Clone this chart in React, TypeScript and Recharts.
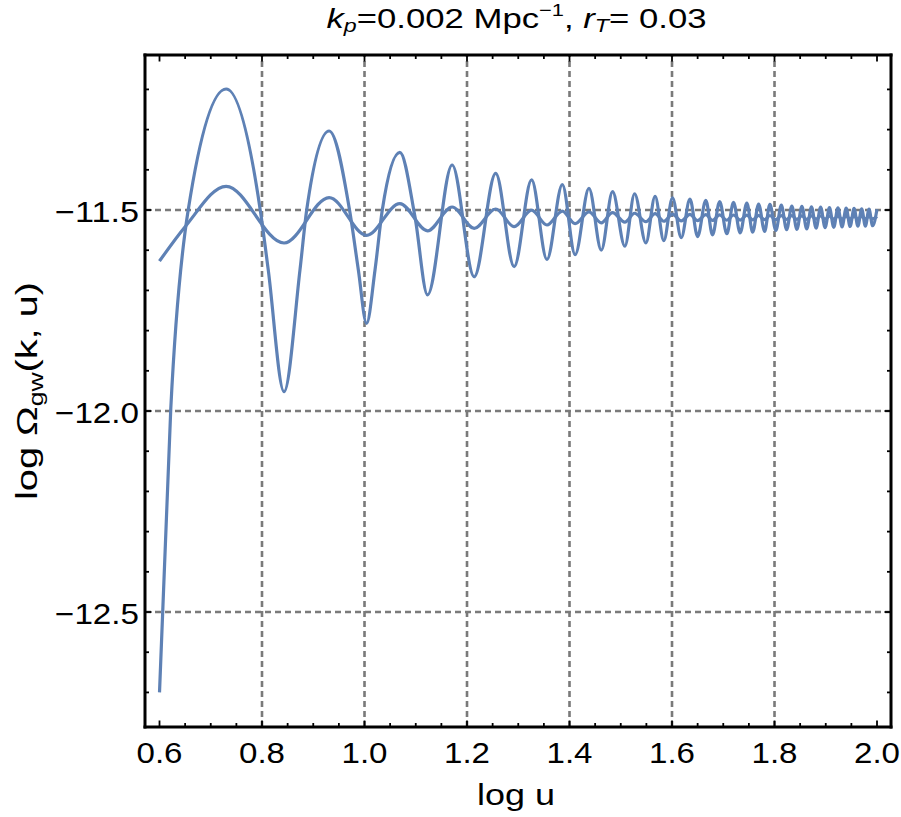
import React from 'react';
import { LineChart, Line, XAxis, YAxis, ReferenceLine } from 'recharts';

// log u positions of the extrema (peak, trough, peak, ...), shared by both curves
const extremaLogU = [
  0.73, 0.843, 0.931, 1.004, 1.069, 1.123, 1.171, 1.214, 1.256, 1.292,
  1.326, 1.356, 1.386, 1.411, 1.438, 1.462, 1.484, 1.508, 1.527, 1.549,
  1.567, 1.584, 1.601, 1.618, 1.635, 1.65, 1.666, 1.679, 1.693, 1.707,
  1.72, 1.733, 1.746, 1.7575, 1.769, 1.7807, 1.791, 1.8027, 1.8133, 1.8237,
  1.8338, 1.8437, 1.8534, 1.8629, 1.8721, 1.8811, 1.89, 1.8987, 1.9072, 1.9156,
  1.9238, 1.9318, 1.9398, 1.9475, 1.9552, 1.9627, 1.9701, 1.9773, 1.9844, 1.9914,
  2.0,
];

// large-amplitude curve
const leadLogUA = [0.6, 0.622, 0.656];
const leadOmegaA = [-12.7, -11.994, -11.5];
const extremaOmegaA = [
  -11.199, -11.952, -11.3035, -11.782, -11.3565, -11.711, -11.388, -11.666, -11.409, -11.641,
  -11.425, -11.623, -11.437, -11.611, -11.446, -11.6, -11.4545, -11.59, -11.4595, -11.582,
  -11.466, -11.576, -11.47, -11.569, -11.473, -11.566, -11.476, -11.562, -11.479, -11.559,
  -11.481, -11.557, -11.483, -11.555, -11.485, -11.553, -11.486, -11.551, -11.488, -11.549,
  -11.49, -11.548, -11.491, -11.547, -11.492, -11.545, -11.493, -11.544, -11.494, -11.543,
  -11.4945, -11.542, -11.495, -11.541, -11.496, -11.54, -11.497, -11.54, -11.498, -11.539,
  -11.498,
];
// extra points read on the flanks of the first, narrow troughs
const flankLogUA = [0.7975, 0.8122, 0.8741, 0.8872, 0.9717, 0.988, 1.0205, 1.0347, 1.0985];
const flankOmegaA = [-11.508, -11.649, -11.649, -11.5, -11.507, -11.649, -11.649, -11.5, -11.517];

// small-amplitude curve
const leadLogUB = [0.6, 0.65];
const leadOmegaB = [-11.627, -11.5415];
const extremaOmegaB = [
  -11.441, -11.5821, -11.469, -11.5629, -11.484, -11.5517, -11.4925, -11.5455, -11.4975, -11.5415,
  -11.5005, -11.5373, -11.5027, -11.5341, -11.5047, -11.5318, -11.5065, -11.5303, -11.508, -11.5291,
  -11.5092, -11.5279, -11.51, -11.5271, -11.5107, -11.5264, -11.5115, -11.5259, -11.5119, -11.5254,
  -11.5124, -11.5249, -11.5129, -11.5244, -11.5134, -11.5241, -11.5137, -11.5239, -11.5139, -11.5236,
  -11.5142, -11.5234, -11.5144, -11.5231, -11.5147, -11.5229, -11.5149, -11.5226, -11.5152, -11.5224,
  -11.5154, -11.5224, -11.5154, -11.5221, -11.5157, -11.5221, -11.5157, -11.5219, -11.5159, -11.5219,
  -11.5159,
];

const xTicks = [
  0.6, 0.65, 0.7, 0.75, 0.8, 0.85, 0.9, 0.95, 1.0, 1.05, 1.1, 1.15, 1.2, 1.25, 1.3,
  1.35, 1.4, 1.45, 1.5, 1.55, 1.6, 1.65, 1.7, 1.75, 1.8, 1.85, 1.9, 1.95, 2.0,
];
const yTicks = [
  -12.7, -12.6, -12.5, -12.4, -12.3, -12.2, -12.1, -12.0,
  -11.9, -11.8, -11.7, -11.6, -11.5, -11.4, -11.3, -11.2,
];
const xGrid = [0.8, 1.0, 1.2, 1.4, 1.6, 1.8];
const yGrid = [-12.5, -12.0, -11.5];

const xDomain = [0.5717, 2.0273];
const yDomain = [-12.786, -11.1144];

const FONT = '"Liberation Sans", Arial, sans-serif';
const BLUE = '#5E81B5';

const toRows = (xs: number[], ys: number[]) =>
  xs.map((x, i) => ({ x, y: ys[i] })).sort((a, b) => a.x - b.x);
const dataA = toRows([...leadLogUA, ...flankLogUA, ...extremaLogU], [...leadOmegaA, ...flankOmegaA, ...extremaOmegaA]);
const dataB = toRows([...leadLogUB, ...extremaLogU], [...leadOmegaB, ...extremaOmegaB]);

const isMajor = (v: number, step: number) => Math.abs(v / step - Math.round(v / step)) < 1e-6;
const fmt = (v: number) => v.toFixed(1).replace('-', '\u2212');

const BottomTick = ({ x, y, payload }: any) => {
  const major = isMajor(payload.value, 0.2);
  return (
    <g>
      <line x1={x} x2={x} y1={y} y2={y - (major ? 6.5 : 4)} stroke="#000" strokeWidth={1.8} />
      {major && (
        <text x={x} y={y + 35.5} textAnchor="middle" fontSize={29} fontFamily={FONT} fill="#000"
          textLength={46} lengthAdjust="spacingAndGlyphs">
          {fmt(payload.value)}
        </text>
      )}
    </g>
  );
};

const TopTick = ({ x, y, payload }: any) => {
  const major = isMajor(payload.value, 0.2);
  return <line x1={x} x2={x} y1={y} y2={y + (major ? 6.5 : 4)} stroke="#000" strokeWidth={1.8} />;
};

const LeftTick = ({ x, y, payload }: any) => {
  const major = isMajor(payload.value, 0.5);
  return (
    <g>
      <line x1={x} x2={x + (major ? 6.5 : 4)} y1={y} y2={y} stroke="#000" strokeWidth={1.8} />
      {major && (
        <text x={x - 6} y={y + 11.5} textAnchor="end" fontSize={29} fontFamily={FONT} fill="#000"
          textLength={84} lengthAdjust="spacingAndGlyphs">
          {fmt(payload.value)}
        </text>
      )}
    </g>
  );
};

const RightTick = ({ x, y, payload }: any) => {
  const major = isMajor(payload.value, 0.5);
  return <line x1={x} x2={x - (major ? 6.5 : 4)} y1={y} y2={y} stroke="#000" strokeWidth={1.8} />;
};

const frame = { stroke: '#000', strokeWidth: 3, strokeLinecap: 'square' as const };

export default function App() {
  return (
    <div style={{ position: 'absolute', left: 0, top: 0, width: 901, height: 817, background: '#fff' }}>
      <LineChart width={901} height={817} margin={{ top: 0, right: 0, bottom: 0, left: 0 }}>
        <XAxis xAxisId="b" type="number" dataKey="x" domain={xDomain} allowDataOverflow ticks={xTicks}
          interval={0} orientation="bottom" height={90} axisLine={frame} tickLine={false}
          tickSize={0} tickMargin={0} tick={<BottomTick />} />
        <XAxis xAxisId="t" type="number" dataKey="x" domain={xDomain} allowDataOverflow ticks={xTicks}
          interval={0} orientation="top" height={55} axisLine={frame} tickLine={false}
          tickSize={0} tickMargin={0} tick={<TopTick />} />
        <YAxis yAxisId="l" type="number" domain={yDomain} allowDataOverflow ticks={yTicks}
          interval={0} orientation="left" width={145} axisLine={frame} tickLine={false}
          tickSize={0} tickMargin={0} tick={<LeftTick />} />
        <YAxis yAxisId="r" type="number" domain={yDomain} allowDataOverflow ticks={yTicks}
          interval={0} orientation="right" width={10} axisLine={frame} tickLine={false}
          tickSize={0} tickMargin={0} tick={<RightTick />} />
        {xGrid.map((v) => (
          <ReferenceLine key={'gx' + v} xAxisId="b" yAxisId="l" x={v} stroke="#7a7a7a"
            strokeWidth={2.6} strokeDasharray="6 4" />
        ))}
        {yGrid.map((v) => (
          <ReferenceLine key={'gy' + v} xAxisId="b" yAxisId="l" y={v} stroke="#7a7a7a"
            strokeWidth={2.6} strokeDasharray="6 4" />
        ))}
        <Line xAxisId="b" yAxisId="l" data={dataA} dataKey="y" type="monotone" stroke={BLUE}
          strokeWidth={3.2} dot={false} activeDot={false} isAnimationActive={false} />
        <Line xAxisId="b" yAxisId="l" data={dataB} dataKey="y" type="monotone" stroke={BLUE}
          strokeWidth={3.2} dot={false} activeDot={false} isAnimationActive={false} />
      </LineChart>
      <svg width={901} height={817} style={{ position: 'absolute', left: 0, top: 0, pointerEvents: 'none' }}>
        <g fontFamily={FONT} fill="#000">
          <text x={516.5} y={27.5} textAnchor="middle" fontSize={27} textLength={380} lengthAdjust="spacingAndGlyphs">
            <tspan fontStyle="italic">k</tspan>
            <tspan fontStyle="italic" fontSize={18} dy={4.5}>p</tspan>
            <tspan dy={-4.5}>=0.002 Mpc</tspan>
            <tspan fontSize={17} dy={-12}>{'\u22121'}</tspan>
            <tspan dy={12}>, </tspan>
            <tspan fontStyle="italic">r</tspan>
            <tspan fontStyle="italic" fontSize={18} dy={4.5}>T</tspan>
            <tspan dy={-4.5}>= 0.03</tspan>
          </text>
          <text x={516} y={805} textAnchor="middle" fontSize={29} textLength={78} lengthAdjust="spacingAndGlyphs">
            log u
          </text>
          <text transform="translate(37, 391) rotate(-90)" textAnchor="middle" fontSize={30}
            textLength={218} lengthAdjust="spacingAndGlyphs">
            log {'\u03A9'}
            <tspan fontSize={20} dy={6}>gw</tspan>
            <tspan dy={-6}>(k, u)</tspan>
          </text>
        </g>
      </svg>
    </div>
  );
}
